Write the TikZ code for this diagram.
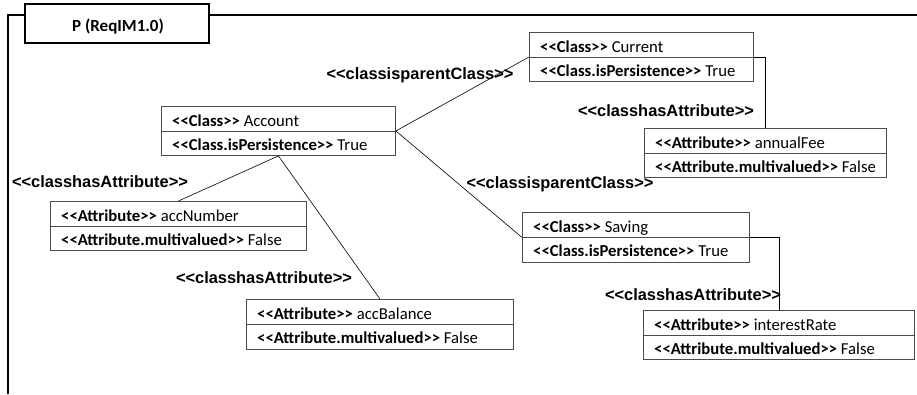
\documentclass[tikz,border=0pt]{standalone}
\usepackage{fontspec}
\setmainfont{Carlito}
\newfontfamily\stereofont{Liberation Sans}
\begin{document}
\begin{tikzpicture}[x=1pt,y=-1pt,
  frameline/.style={line width=2pt,black},
  tabbox/.style={draw=black,line width=2pt,fill=white,inner sep=0pt,minimum width=184pt,minimum height=39pt},
  titletext/.style={inner sep=0pt,font=\bfseries\fontsize{17}{19}\selectfont},
  umlbox/.style={draw=black!70,line width=0.9pt,fill=white,inner sep=0pt,anchor=north west},
  divider/.style={draw=black!70,line width=0.9pt},
  rowtext/.style={anchor=base west,inner sep=0pt,font=\fontsize{16.7}{19}\selectfont},
  link/.style={draw=black,line width=0.6pt},
  stereo/.style={inner sep=0pt,font=\stereofont\bfseries\fontsize{16.4}{18}\selectfont},
]
\useasboundingbox (0,0) rectangle (917,394);

% package frame with its name tab
\draw[frameline] (8,394) -- (8,15) -- (917,15);
\node[tabbox] (tab) at (117,23.5) {};
\node[titletext] (title) at (118,27) {P (ReqIM1.0)};

% two-row element box: name, x, y, width, height, first row, second row
\newcommand\rowbox[7]{%
  \node[umlbox,minimum width=#4pt,minimum height=#5pt] (#1) at (#2,#3) {};
  \draw[divider] (#1.west) -- (#1.east);
  \node[rowtext] (#1-name) at ([xshift=11pt,yshift=-20pt]#1.north west) {#6};
  \node[rowtext] (#1-value) at ([xshift=11pt,yshift=-44pt]#1.north west) {#7};
}

\rowbox{account}{161}{106}{234}{49}{\textbf{<{}<Class>{}>} Account}{\textbf{<{}<Class.isPersistence>{}>} True}
\rowbox{current}{529}{32}{224}{49}{\textbf{<{}<Class>{}>} Current}{\textbf{<{}<Class.isPersistence>{}>} True}
\rowbox{saving}{522}{212}{227}{50}{\textbf{<{}<Class>{}>} Saving}{\textbf{<{}<Class.isPersistence>{}>} True}
\rowbox{annualfee}{644}{128}{242}{49}{\textbf{<{}<Attribute>{}>} annualFee}{\textbf{<{}<Attribute.multivalued>{}>} False}
\rowbox{interest}{643}{310}{271}{49}{\textbf{<{}<Attribute>{}>} interestRate}{\textbf{<{}<Attribute.multivalued>{}>} False}
\rowbox{accnumber}{50}{201}{256}{49}{\textbf{<{}<Attribute>{}>} accNumber}{\textbf{<{}<Attribute.multivalued>{}>} False}
\rowbox{accbalance}{246}{299}{267}{50}{\textbf{<{}<Attribute>{}>} accBalance}{\textbf{<{}<Attribute.multivalued>{}>} False}

% relations
\draw[link] (account.east) -- (current.west);
\draw[link] (account.east) -- (saving.west);
\draw[link] (current.east) -| (annualfee.north);
\draw[link] (saving.east) -| (interest.north);
\draw[link] (account.south) -- (accnumber.north);
\draw[link] (account.south) -- (accbalance.north);

% relation stereotypes
\node[stereo] (parent1) at (420,75) {<{}<classisparentClass>{}>};
\node[stereo] (parent2) at (560,184) {<{}<classisparentClass>{}>};
\node[stereo] (has1) at (666,111) {<{}<classhasAttribute>{}>};
\node[stereo] (has2) at (100,182) {<{}<classhasAttribute>{}>};
\node[stereo] (has3) at (264,278) {<{}<classhasAttribute>{}>};
\node[stereo] (has4) at (693,295) {<{}<classhasAttribute>{}>};
\end{tikzpicture}
\end{document}
